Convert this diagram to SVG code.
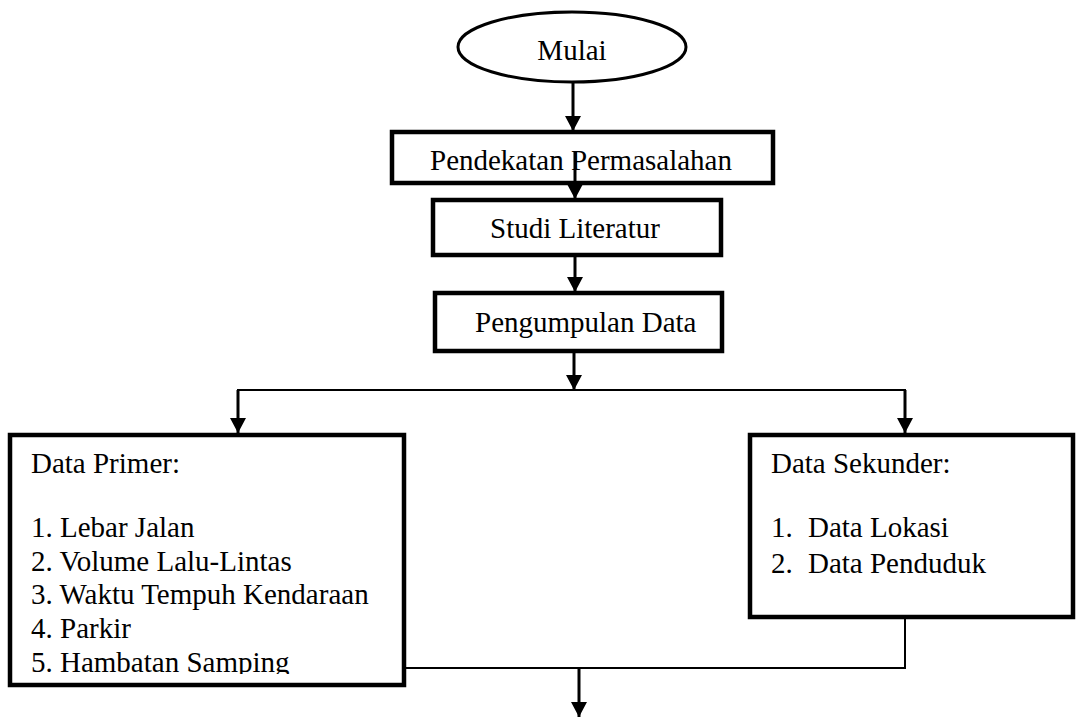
<svg xmlns="http://www.w3.org/2000/svg" width="1079" height="719" viewBox="0 0 1079 719">
<style>
.box{fill:#fff;stroke:#000;stroke-width:4.5}
.t{font-family:"Liberation Serif","Times New Roman",serif;font-size:29px;fill:#000}
.c{fill:none;stroke:#000;stroke-width:3}
.h{fill:none;stroke:#000;stroke-width:2}
</style>
<defs>
<marker id="ah" markerUnits="userSpaceOnUse" markerWidth="16" markerHeight="16" viewBox="0 0 16 16" refX="15" refY="8" orient="auto">
<path d="M0,0 L15,8 L0,16 Z" fill="#000"/>
</marker>
<clipPath id="clipP"><rect x="12" y="437" width="390" height="237"/></clipPath>
</defs>
<rect width="1079" height="719" fill="#fff"/>
<g id="n-mulai">
<ellipse cx="572" cy="47" rx="114" ry="35" fill="#fff" stroke="#000" stroke-width="3"/>
<text class="t" x="572" y="60" text-anchor="middle">Mulai</text>
</g>
<g id="n-pendekatan">
<rect class="box" x="392" y="132" width="381" height="51"/>
<text class="t" x="430" y="170">Pendekatan Permasalahan</text>
</g>
<g id="n-studi">
<rect class="box" x="433" y="200" width="288" height="55"/>
<text class="t" x="490" y="238">Studi Literatur</text>
</g>
<g id="n-pengumpulan">
<rect class="box" x="435" y="293" width="287" height="58"/>
<text class="t" x="475" y="332">Pengumpulan Data</text>
</g>
<g id="n-primer">
<rect class="box" x="10" y="435" width="394" height="250"/>
<g clip-path="url(#clipP)">
<text class="t" x="31" y="473">Data Primer:</text>
<text class="t" x="31" y="537">1. Lebar Jalan</text>
<text class="t" x="31" y="571">2. Volume Lalu-Lintas</text>
<text class="t" x="31" y="604">3. Waktu Tempuh Kendaraan</text>
<text class="t" x="31" y="638">4. Parkir</text>
<text class="t" x="31" y="672">5. Hambatan Samping</text>
</g>
</g>
<g id="n-sekunder">
<rect class="box" x="750" y="435" width="323" height="182"/>
<text class="t" x="771" y="473">Data Sekunder:</text>
<text class="t" x="771" y="537">1.</text>
<text class="t" x="808" y="537">Data Lokasi</text>
<text class="t" x="771" y="573">2.</text>
<text class="t" x="808" y="573">Data Penduduk</text>
</g>
<g id="connectors">
<line class="c" x1="573" y1="82" x2="573" y2="131" marker-end="url(#ah)"/>
<line class="c" x1="575" y1="151" x2="575" y2="199" marker-end="url(#ah)"/>
<line class="c" x1="575" y1="257" x2="575" y2="292" marker-end="url(#ah)"/>
<line class="c" x1="574" y1="353" x2="574" y2="390" marker-end="url(#ah)"/>
<polyline class="h" points="238,433 238,390 905,390 905,433"/>
<line class="c" x1="238" y1="390" x2="238" y2="433" marker-end="url(#ah)"/>
<line class="c" x1="905" y1="390" x2="905" y2="433" marker-end="url(#ah)"/>
<polyline class="h" points="406,668 905,668 905,619"/>
<line class="c" x1="579" y1="668" x2="579" y2="717" marker-end="url(#ah)"/>
</g>
</svg>
